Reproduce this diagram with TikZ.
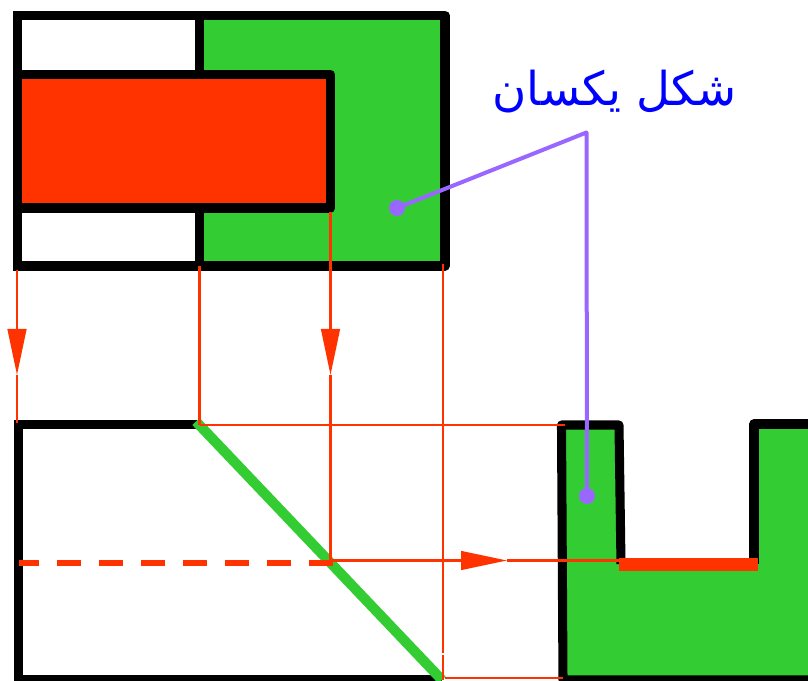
\documentclass[tikz,border=0pt]{standalone}
\usepackage{fontspec}
\usepackage{xcolor}
\usepackage{tikz}
\usetikzlibrary{arrows.meta}
\newfontfamily\arabicfont[Script=Arabic]{DejaVu Sans}
\TeXXeTstate=1
\definecolor{shapegreen}{HTML}{33CC33}
\definecolor{cutred}{HTML}{FF3300}
\definecolor{leadpurple}{HTML}{9966FF}

\begin{document}
\begin{tikzpicture}[
    x=0.75pt, y=-0.75pt,
    outline/.style={draw=black, line width=6.8pt, line join=round},
    guide/.style={draw=cutred, line width=1.8pt},
    guidearrow/.style={guide, -{Triangle[length=34.5pt, width=14pt]}},
    leader/.style={draw=leadpurple, line width=3pt, line join=round},
    dot/.style={circle, fill=leadpurple, inner sep=0pt, minimum size=12pt}
]
    \useasboundingbox (0,0) rectangle (808,681);
    \clip (0,0) rectangle (808,681);

    \coordinate (viewNW) at (17.5,15.5);
    \coordinate (viewN) at (199.5,15.5);
    \coordinate (viewNE) at (445,15.5);
    \coordinate (viewSE) at (445,266);
    \coordinate (viewS) at (199.5,266);
    \coordinate (viewSW) at (17.5,266);
    \coordinate (slotNW) at (17.5,74.5);
    \coordinate (slotNE) at (330.5,74.5);
    \coordinate (slotSE) at (330.5,208);
    \coordinate (slotSW) at (17.5,208);

    \fill[shapegreen] (viewN) rectangle (viewSE);
    \draw[outline] (viewN) -- (viewNE) -- (viewSE) -- (viewS);
    \draw[outline, line join=miter] (viewS) -- (viewSW) -- (viewNW) -- (viewN);
    \draw[outline] (viewN) -- (viewS);
    \fill[cutred] (slotNW) rectangle (slotSE);
    \draw[outline] (slotNW) -- (slotNE) -- (slotSE) -- (slotSW) -- cycle;

    \coordinate (frontNW) at (18.5,424.5);
    \coordinate (frontN) at (197,424.5);
    \coordinate (frontSW) at (18.5,680);
    \coordinate (frontS) at (442,680);

    \draw[outline, line join=miter] (frontN) -- (frontNW) -- (frontSW) -- (frontS);
    \draw[draw=shapegreen, line width=7.6pt] (196,421.5) -- (frontS);

    \coordinate (sideNW) at (561.5,425);
    \coordinate (sideNE) at (619,425);
    \coordinate (sideIn) at (621,564);
    \coordinate (sideOut) at (754,564);
    \coordinate (sideTop) at (754,424);
    \coordinate (sideEdge) at (815,424);
    \coordinate (sideFar) at (815,680);
    \coordinate (sideSW) at (563,680);

    \fill[shapegreen] (sideNW) -- (sideNE) -- (sideIn) -- (sideOut) -- (sideTop)
        -- (sideEdge) -- (sideFar) -- (sideSW) -- cycle;
    \draw[outline] (sideFar) -- (sideSW) -- (sideNW) -- (sideNE) -- (sideIn);
    \draw[outline] (sideOut) -- (sideTop) -- (sideEdge);

    \coordinate (a1) at (17,270);
    \coordinate (a2) at (17,375);
    \coordinate (a3) at (17,423);
    \coordinate (b1) at (199.5,266);
    \coordinate (b2) at (199.5,425);
    \coordinate (c1) at (330.5,212);
    \coordinate (c2) at (330.5,375);
    \coordinate (c3) at (330.5,561);
    \coordinate (d1) at (443,264);
    \coordinate (d2) at (443,653);
    \coordinate (d3) at (443,655);
    \coordinate (d4) at (443,680);
    \coordinate (e1) at (565,425);
    \coordinate (f2) at (507,560.5);
    \coordinate (f3) at (620,560.5);
    \coordinate (g1) at (445,678);
    \coordinate (g2) at (563,678);

    \draw[guidearrow] (a1) -- (a2);
    \draw[guide] (a2) -- (a3);
    \draw[guide] (b1) -- (b2);
    \draw[guidearrow] (c1) -- (c2);
    \draw[guide] (c2) -- (c3);
    \draw[guide] (d1) -- (d2);
    \draw[guide] (d3) -- (d4);
    \draw[guide] (b2) -- (e1);
    \draw[guidearrow] (c3 |- f2) -- (f2);
    \draw[guide] (f2) -- (f3);
    \draw[guide] (g1) -- (g2);

    \draw[draw=cutred, line width=4.5pt, dash pattern=on 18.2pt off 13.3pt,
        dash phase=3.2pt] (19,562.7) -- (333,562.7);
    \draw[draw=cutred, line width=9.8pt] (619,564.5) -- (758,564.5);

    \node[dot] (dotTop) at (397,208) {};
    \node[dot] (dotSide) at (587,496) {};
    \coordinate (bend) at (586.5,132.5);
    \draw[leader] (dotTop.center) -- (bend) -- (dotSide.center);

    \node[text=blue, font=\arabicfont\fontsize{35}{37}\selectfont, inner sep=0pt]
        (label) at (614.5,92) {\beginR شکل یکسان\endR};
\end{tikzpicture}
\end{document}
